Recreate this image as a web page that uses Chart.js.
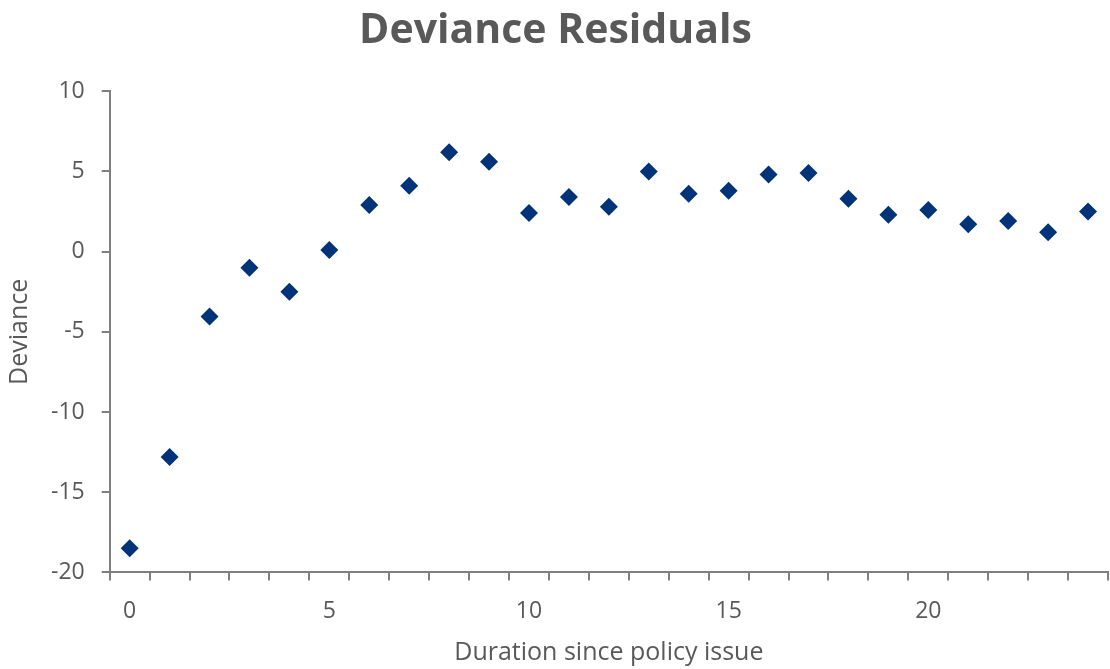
<!DOCTYPE html>
<html>
<head>
<meta charset="utf-8">
<script src="https://cdn.jsdelivr.net/npm/chart.js@4/dist/chart.umd.min.js"></script>
<style>
  html, body { margin: 0; padding: 0; background: #fff; }
  #wrap { width: 1110px; height: 669px; }
</style>
</head>
<body>
<div id="wrap"><canvas id="chart"></canvas></div>
<script>
// 경과 기간 (x축)
var durations = [0, 1, 2, 3, 4, 5, 6, 7, 8, 9, 10, 11, 12, 13, 14, 15, 16, 17, 18, 19, 20, 21, 22, 23, 24];
// deviance residuals (y축)
var deviance = [-18.5, -12.8, -4.05, -1.0, -2.5, 0.1, 2.9, 4.1, 6.2, 5.6, 2.4, 3.4, 2.8, 5.0, 3.6, 3.8, 4.8, 4.9, 3.3, 2.3, 2.6, 1.7, 1.9, 1.2, 2.5];
// 표시할 x축 라벨
var xTickLabels = [0, 5, 10, 15, 20];
var yTicks = [-20, -15, -10, -5, 0, 5, 10];

var axisGray = "#7f7f7f";
var textGray = "#595959";

new Chart(document.getElementById("chart"), {
  type: "line",
  data: {
    labels: durations,
    datasets: [
      {
        label: "Deviance",
        data: deviance,
        showLine: false,
        pointStyle: "rectRot",
        pointRadius: 9,
        pointHoverRadius: 9,
        pointBackgroundColor: "#003378",
        pointBorderColor: "#003378",
        pointBorderWidth: 0,
      },
    ],
  },
  options: {
    responsive: true,
    maintainAspectRatio: false,
    animation: false,
    layout: { autoPadding: false, padding: { top: 7, right: 2, left: 3, bottom: 1 } },
    plugins: {
      legend: { display: false },
      tooltip: { enabled: false },
      title: {
        display: true,
        text: "Deviance Residuals",
        color: textGray,
        font: { family: "'Open Sans'", size: 41, weight: "bold" },
        padding: { top: 0, bottom: 35 },
      },
    },
    scales: {
      x: {
        type: "category",
        offset: true,
        // 라벨 폭 때문에 생기는 좌우 여백 제거
        afterFit: function (scale) {
          scale.paddingLeft = 0;
          scale.paddingRight = 0;
        },
        grid: {
          offset: true,
          drawOnChartArea: false,
          drawTicks: true,
          tickLength: 8,
          color: axisGray,
          lineWidth: 2,
        },
        border: { color: axisGray, width: 2 },
        ticks: {
          autoSkip: false,
          maxRotation: 0,
          color: textGray,
          font: { family: "'Open Sans'", size: 23 },
          padding: 17,
          callback: function (value, index) {
            var d = durations[index];
            return xTickLabels.indexOf(d) >= 0 ? String(d) : "";
          },
        },
        title: {
          display: true,
          text: "Duration since policy issue",
          color: textGray,
          font: { family: "'Open Sans'", size: 25 },
          padding: { top: -4, bottom: 0 },
        },
      },
      y: {
        min: -20,
        max: 10,
        afterBuildTicks: function (scale) {
          scale.ticks = yTicks.map(function (v) { return { value: v }; });
        },
        grid: {
          drawOnChartArea: false,
          tickLength: 8,
          color: axisGray,
          lineWidth: 2,
        },
        border: { color: axisGray, width: 2 },
        ticks: {
          color: textGray,
          font: { family: "'Open Sans'", size: 23 },
          padding: 17,
        },
        title: {
          display: true,
          text: "Deviance",
          color: textGray,
          font: { family: "'Open Sans'", size: 25 },
          padding: { top: 2, bottom: -1 },
        },
      },
    },
  },
});
</script>
</body>
</html>
